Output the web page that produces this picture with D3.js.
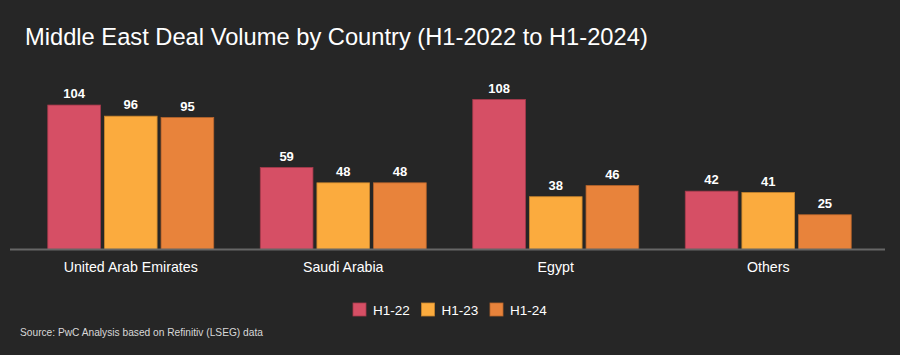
<!DOCTYPE html>
<html><head><meta charset="utf-8">
<script src="https://cdn.jsdelivr.net/npm/d3@7"></script>
<style>
html,body{margin:0;padding:0;background:#262626;}
svg{display:block;}
text{font-family:"Liberation Sans",Arial,Helvetica,sans-serif;}
</style></head>
<body>
<script>
const categories = ["United Arab Emirates", "Saudi Arabia", "Egypt", "Others"];
const seriesNames = ["H1-22", "H1-23", "H1-24"];
const h122 = [104, 59, 108, 42];
const h123 = [96, 48, 38, 41];
const h124 = [95, 48, 46, 25];
const seriesValues = [h122, h123, h124];
const colors = ["#d64f65", "#fbab3e", "#e8833b"];
const strokes = ["#a83a4c", "#c9852d", "#b9662c"];

const W = 900, H = 355;
const svg = d3.select("body").append("svg").attr("width", W).attr("height", H);
svg.append("rect").attr("width", W).attr("height", H).attr("fill", "#262626");

const baseY = 249.5;
const x0 = d3.scaleBand().domain(categories).range([14, 885]).paddingInner(0.219).paddingOuter(0.159);
const x1 = d3.scaleBand().domain(seriesNames).range([0, x0.bandwidth()]).paddingInner(0.07);
const y = d3.scaleLinear().domain([0, 108]).range([baseY, 99.5]);

svg.append("text").attr("x", 25).attr("y", 45).attr("fill", "#ffffff")
  .attr("font-size", 23.7).text("Middle East Deal Volume by Country (H1-2022 to H1-2024)");

const data = [];
categories.forEach((c, i) => seriesNames.forEach((s, j) => data.push({c, s, j, v: seriesValues[j][i]})));

const g = svg.append("g");
g.selectAll("rect.bar").data(data).enter().append("rect").attr("class", "bar")
  .attr("x", d => x0(d.c) + x1(d.s))
  .attr("y", d => y(d.v))
  .attr("width", x1.bandwidth())
  .attr("height", d => baseY - y(d.v))
  .attr("fill", d => colors[d.j])
  .attr("stroke", d => strokes[d.j]).attr("stroke-width", 0.8);

g.selectAll("text.val").data(data).enter().append("text").attr("class", "val")
  .attr("x", d => x0(d.c) + x1(d.s) + x1.bandwidth() / 2)
  .attr("y", d => y(d.v) - 7)
  .attr("text-anchor", "middle").attr("fill", "#ffffff")
  .attr("font-size", 13).attr("font-weight", "bold")
  .text(d => d.v);

// axis
const axis = d3.axisBottom(x0).tickSize(0).tickPadding(10);
const ax = svg.append("g").attr("transform", `translate(0,${baseY})`).call(axis);
ax.select(".domain").attr("stroke", "#666666").attr("stroke-width", 2).attr("d", "M10,0H885");
ax.selectAll(".tick text").attr("fill", "#ffffff").attr("font-size", 14.2)
  .attr("font-family", "'Liberation Sans',Arial,sans-serif").attr("dy", "0.9em");

// legend
const legX = d3.scalePoint().domain(seriesNames).range([353, 490]);
const leg = svg.append("g");
const li = leg.selectAll("g").data(seriesNames).enter().append("g")
  .attr("transform", d => `translate(${legX(d)},303)`);
li.append("rect").attr("width", 13).attr("height", 13)
  .attr("fill", (d, i) => colors[i]).attr("stroke", (d, i) => strokes[i]).attr("stroke-width", 0.8);
li.append("text").attr("x", 20).attr("y", 11.5).attr("fill", "#ffffff").attr("font-size", 13.5).text(d => d);

svg.append("text").attr("x", 20).attr("y", 336).attr("fill", "#d8d8d8").attr("font-size", 10.2)
  .text("Source: PwC Analysis based on Refinitiv (LSEG) data");
</script>
</body></html>
